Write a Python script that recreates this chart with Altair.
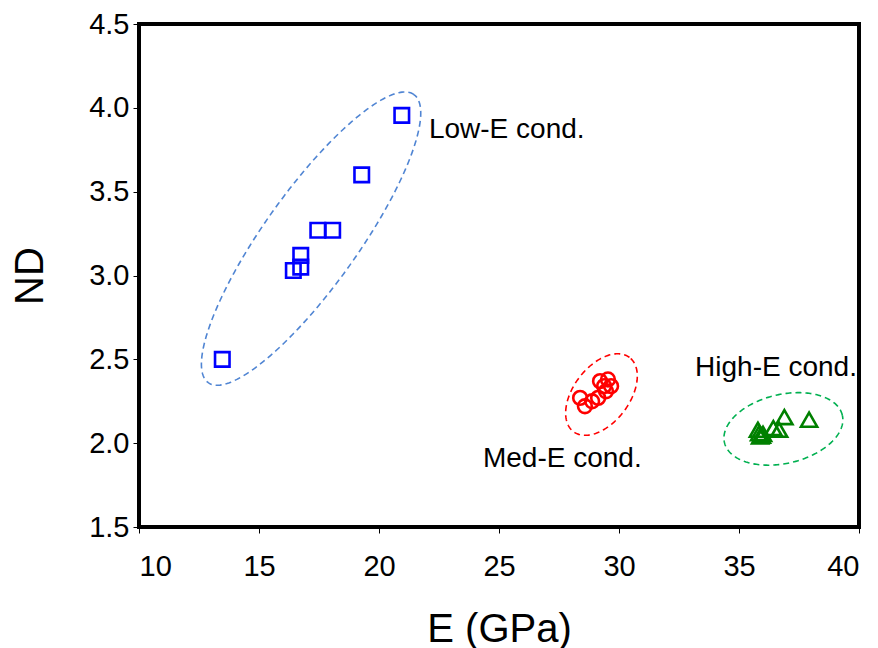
import altair as alt
import numpy as np
import pandas as pd

# ---- data ----
low_E = [13.47, 16.43, 16.74, 16.74, 17.45, 18.07, 19.28, 20.95]
low_ND = [2.50, 3.03, 3.05, 3.12, 3.27, 3.27, 3.60, 3.955]

med_E = [28.38, 28.58, 28.88, 29.13, 29.21, 29.38, 29.54, 29.67, 29.46]
med_ND = [2.27, 2.22, 2.25, 2.27, 2.37, 2.34, 2.38, 2.34, 2.31]

high_E = [35.79, 35.88, 36.00, 35.84, 35.95, 36.43, 36.67, 36.89, 37.92]
high_ND = [2.08, 2.04, 2.055, 2.06, 2.045, 2.09, 2.08, 2.155, 2.14]

labels = ["Low-E cond.", "Med-E cond.", "High-E cond."]
label_E = [22.08, 24.33, 33.17]
label_ND = [3.82, 1.858, 2.40]

# ellipse outlines: centre (data), semi-axes (px), tilt (deg)
ell_name = ["low", "med", "high"]
ell_cE = [17.17, 29.27, 36.85]
ell_cND = [3.22, 2.29, 2.085]
ell_a = [177.0, 46.5, 60.5]
ell_b = [47.0, 28.0, 34.5]
ell_ang = [54.5, 53.0, 13.0]
ell_col = ["#5085D3", "#FF0000", "#00B050"]

x_ticks = [10, 15, 20, 25, 30, 35, 40]
y_ticks = [1.5, 2.0, 2.5, 3.0, 3.5, 4.0, 4.5]

W, H = 720, 503
px_per_E = W / 30.0
px_per_ND = H / 3.0

rows = []
t = np.linspace(0, 2 * np.pi, 241)
for n, cx, cy, a, b, ang in zip(ell_name, ell_cE, ell_cND, ell_a, ell_b, ell_ang):
    th = np.deg2rad(ang)
    dx = a * np.cos(t) * np.cos(th) - b * np.sin(t) * np.sin(th)
    dy = a * np.cos(t) * np.sin(th) + b * np.sin(t) * np.cos(th)
    for i, (u, v) in enumerate(zip(dx, dy)):
        rows.append({"g": n, "i": i, "E": cx + u / px_per_E, "ND": cy + v / px_per_ND})
ell_df = pd.DataFrame(rows)

font = "Liberation Sans"
xs = alt.Scale(domain=[10, 40], nice=False, zero=False)
ys = alt.Scale(domain=[1.5, 4.5], nice=False, zero=False)

xenc = alt.X("E:Q", scale=xs, axis=alt.Axis(values=x_ticks, title="E (GPa)", format="d"))
yenc = alt.Y("ND:Q", scale=ys, axis=alt.Axis(values=y_ticks, title="ND", format=".1f"))

layers = []
for n, c in zip(ell_name, ell_col):
    layers.append(
        alt.Chart(ell_df[ell_df.g == n]).mark_line(
            color=c, strokeWidth=1.6, strokeDash=[6, 4]
        ).encode(x=xenc, y=yenc, order="i:Q")
    )

def pts(E, ND, shape, color, size):
    df = pd.DataFrame({"E": E, "ND": ND})
    return alt.Chart(df).mark_point(
        shape=shape, filled=False, color=color, strokeWidth=2.6, size=size, opacity=1
    ).encode(x=xenc, y=yenc)

layers.append(pts(low_E, low_ND, "square", "#0000FF", 210))
layers.append(pts(med_E, med_ND, "circle", "#FF0000", 190))
layers.append(pts(high_E, high_ND, "triangle-up", "#008000", 260))

lab_df = pd.DataFrame({"E": label_E, "ND": label_ND, "t": labels})
layers.append(
    alt.Chart(lab_df).mark_text(
        align="left", baseline="alphabetic", font=font, fontSize=28, color="black"
    ).encode(x=xenc, y=yenc, text="t:N")
)

chart = alt.layer(*layers).properties(
    width=W, height=H,
    autosize=alt.AutoSizeParams(type="none"),
    padding={"left": 139, "top": 24, "right": 19, "bottom": 121},
).configure_view(
    stroke="black", strokeWidth=4
).configure_axis(
    domain=False, grid=False, ticks=True, tickColor="black", tickWidth=1, tickSize=6,
    labelFont=font, labelFontSize=29, labelColor="black",
    titleFont=font, titleFontSize=40, titleColor="black", titleFontWeight="normal",
).configure_axisX(
    labelPadding=19, titlePadding=28
).configure_axisY(
    labelPadding=4, titlePadding=38
)

chart.save("out.html", embed_options={"renderer": "svg", "actions": False})
